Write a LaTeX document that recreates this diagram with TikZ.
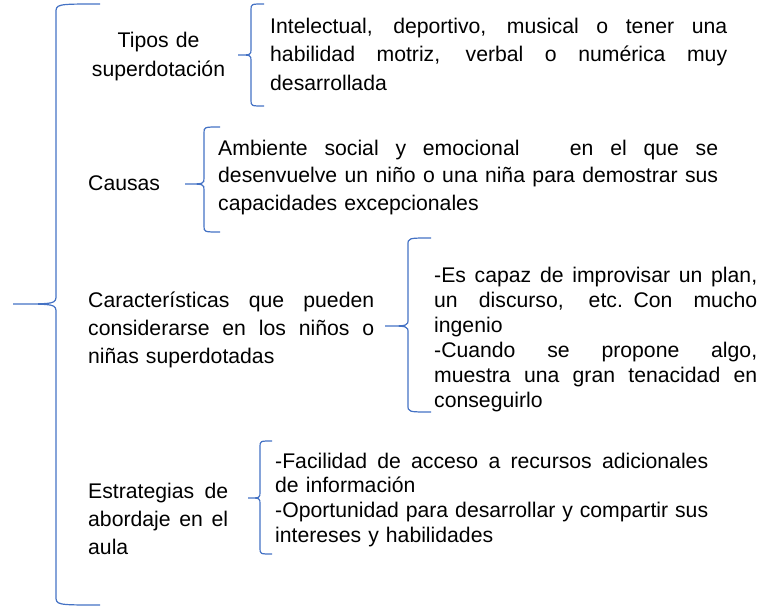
\documentclass[tikz,border=0pt]{standalone}
\usepackage{fontspec}
\setmainfont{Liberation Sans}
\definecolor{bracecol}{HTML}{4472C4}
\newcommand\drawbrace[7]{% xv, xe, ytop, ybot, xtip, ytip, r
  \draw[bracebox] (#2,#3) .. controls (#1,#3) .. (#1,#3+#7) -- (#1,#6-#7)
    .. controls (#1,#6) .. (#5,#6) .. controls (#1,#6) .. (#1,#6+#7)
    -- (#1,#4-#7) .. controls (#1,#4) .. (#2,#4);}
\newcommand\jline[1]{\leavevmode\hbox to \hsize{\spaceskip=0.278em plus 1fil\relax #1}}
\tikzset{
  bracebox/.style={draw=bracecol, line width=1.2pt},
  txt/.style={inner sep=0pt, anchor=base west, align=left,
    font=\fontsize{21.2}{#1}\selectfont},
}
\begin{document}
\begin{tikzpicture}[x=1pt,y=-1pt]
\useasboundingbox (0,0) rectangle (771,610);
% braces
\drawbrace{56}{100}{4}{605}{13}{304}{9}
\drawbrace{251}{264}{4}{106}{238}{55}{6}
\drawbrace{204}{220}{127}{232}{185}{184}{6}
\drawbrace{408}{431}{238}{412}{385}{326}{7}
\drawbrace{260}{272}{441}{554}{248}{498}{6}
% left labels
\node[inner sep=0pt, anchor=base, align=center, text width=170pt,
  font=\fontsize{21.2}{28.7}\selectfont] (tipos) at (158.5,48)
  {Tipos de\\superdotación};
\node[txt=28, text width=80pt] (causas) at (88,190) {Causas};
\node[txt=28, text width=286pt] (carac) at (88,307)
  {\jline{Características que pueden}\\\jline{considerarse en los niños o}\\niñas superdotadas};
\node[txt=28, text width=140pt] (estrat) at (88,498)
  {\jline{Estrategias de}\\\jline{abordaje en el}\\aula};
% right texts
\node[txt=28.3, text width=457pt] (t1) at (270,33.5)
  {\jline{Intelectual, deportivo, musical o tener una}\\\jline{habilidad motriz, verbal o numérica muy}\\desarrollada};
\node[txt=27.8, text width=500pt] (t2) at (218,155)
  {\jline{Ambiente social y emocional \ \ en el que se}\\\jline{desenvuelve un niño o una niña para demostrar sus}\\capacidades excepcionales};
\node[txt=25, text width=323pt] (t3) at (434,282)
  {\jline{-Es capaz de improvisar un plan,}\\\jline{un discurso, etc. Con mucho}\\ingenio\\\jline{-Cuando se propone algo,}\\\jline{muestra una gran tenacidad en}\\conseguirlo};
\node[txt=24.7, text width=433pt] (t4) at (275,468)
  {\jline{-Facilidad de acceso a recursos adicionales}\\de información\\\jline{-Oportunidad para desarrollar y compartir sus}\\intereses y habilidades};
\end{tikzpicture}
\end{document}
